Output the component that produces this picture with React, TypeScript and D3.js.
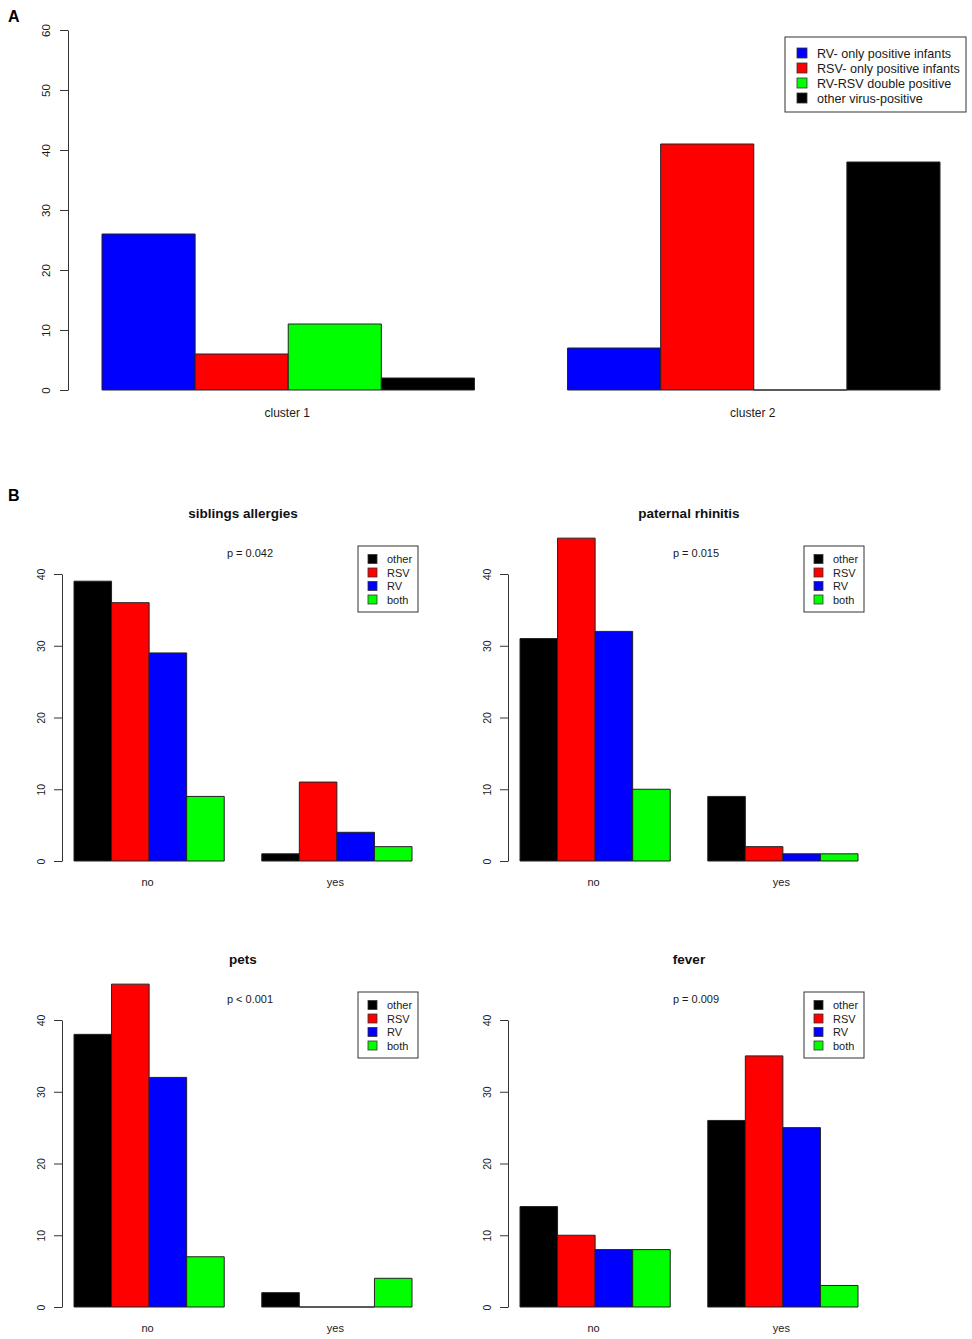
import * as React from 'react';
import { select, scaleLinear, scaleBand, axisLeft, ScaleLinear } from 'd3';

const { useRef, useEffect } = React;

// ---- panel A data ----
const clusters = ['cluster 1', 'cluster 2'];
const seriesA = ['RV- only positive infants', 'RSV- only positive infants', 'RV-RSV double positive', 'other virus-positive'];
const colorsA = ['#0000ff', '#ff0000', '#00ff00', '#000000'];
const rvOnly = [26, 7];
const rsvOnly = [6, 41];
const doublePos = [11, 0];
const otherVirus = [2, 38];
const ticksA = [0, 10, 20, 30, 40, 50, 60];

// ---- panel B data ----
const seriesB = ['other', 'RSV', 'RV', 'both'];
const colorsB = ['#000000', '#ff0000', '#0000ff', '#00ff00'];
const answers = ['no', 'yes'];
const ticksB = [0, 10, 20, 30, 40];
const titlesB = ['siblings allergies', 'paternal rhinitis', 'pets', 'fever'];
const pValues = ['p = 0.042', 'p = 0.015', 'p < 0.001', 'p = 0.009'];
// values per answer, ordered other, RSV, RV, both
const siblingsNo = [39, 36, 29, 9];
const siblingsYes = [1, 11, 4, 2];
const rhinitisNo = [31, 45, 32, 10];
const rhinitisYes = [9, 2, 1, 1];
const petsNo = [38, 45, 32, 7];
const petsYes = [2, 0, 0, 4];
const feverNo = [14, 10, 8, 8];
const feverYes = [26, 35, 25, 3];

const FONT = '"Liberation Sans", Arial, sans-serif';
const AXIS_COLOR = '#333';
const TEXT_COLOR = '#1a1a1a';

interface AxisProps {
    scale: ScaleLinear<number, number>;
    x: number;
    ticks: number[];
    fontSize: number;
    labelOffset: number;
}

const YAxis = (props: AxisProps): JSX.Element => {
    const ref = useRef(null);
    useEffect(() => {
        const g = select(ref.current);
        g.call(axisLeft(props.scale).tickValues(props.ticks).tickSize(8).tickSizeOuter(0));
        g.attr('font-family', FONT);
        g.select('.domain').attr('stroke', AXIS_COLOR);
        g.selectAll('.tick line').attr('stroke', AXIS_COLOR);
        // R style: labels parallel to the axis
        g.selectAll('.tick text')
            .attr('x', null)
            .attr('dy', null)
            .attr('transform', `translate(${-props.labelOffset},0) rotate(-90)`)
            .attr('text-anchor', 'middle')
            .attr('font-size', props.fontSize)
            .attr('fill', TEXT_COLOR);
    }, [props.scale, props.x]);
    return <g ref={ref} transform={`translate(${props.x},0)`} />;
};

// bars as paths so zero-height bars still show a line, like R
const barPath = (x: number, y0: number, y1: number, w: number) =>
    `M${x},${y0}V${y1}H${x + w}V${y0}Z`;

const PanelA = (): JSX.Element => {
    const values = [rvOnly, rsvOnly, doublePos, otherVirus];
    const y = scaleLinear().domain([0, 60]).range([390, 30]);
    const xGroup = scaleBand().domain(clusters).range([102, 940]).paddingInner(0.2).paddingOuter(0);
    const xInner = scaleBand().domain(seriesA).range([0, xGroup.bandwidth()]);

    return (
        <g>
            <YAxis scale={y} x={68} ticks={ticksA} fontSize={11.5} labelOffset={18} />
            {clusters.map((c, gi) => (
                <g key={c}>
                    {seriesA.map((s, si) => (
                        <path
                            key={s}
                            d={barPath(xGroup(c)! + xInner(s)!, y(0), y(values[si][gi]), xInner.bandwidth())}
                            fill={colorsA[si]}
                            stroke="#222"
                            strokeWidth={1}
                        />
                    ))}
                    <text x={xGroup(c)! + xGroup.bandwidth() / 2 - 1} y={y(0) + 27} textAnchor="middle"
                        fontSize={12} fontFamily={FONT} fill={TEXT_COLOR}>{c}</text>
                </g>
            ))}
            <rect x={785} y={37} width={181} height={75} fill="white" stroke="#333" strokeWidth={1} />
            {seriesA.map((s, i) => (
                <g key={s} transform={`translate(797,${53 + i * 15})`}>
                    <rect x={0} y={-5} width={10} height={10} fill={colorsA[i]} stroke="#333" strokeWidth={0.8} />
                    <text x={20} y={4.5} fontSize={12.6} fontFamily={FONT} fill={TEXT_COLOR}>{s}</text>
                </g>
            ))}
        </g>
    );
};

interface PanelBProps {
    ox: number;
    oy: number;
    title: string;
    pValue: string;
    groups: number[][];
}

const PanelB = (props: PanelBProps): JSX.Element => {
    const { ox, oy } = props;
    const y = scaleLinear().domain([0, 40]).range([oy, oy - 287]);
    const xGroup = scaleBand().domain(answers).range([ox + 12, ox + 350]).paddingInner(0.2).paddingOuter(0);
    const xInner = scaleBand().domain(seriesB).range([0, xGroup.bandwidth()]);

    return (
        <g>
            <text x={ox + 181} y={oy - 343} textAnchor="middle" fontSize={13.5} fontWeight="bold"
                fontFamily={FONT} fill="#111">{props.title}</text>
            <text x={ox + 188} y={oy - 304} textAnchor="middle" fontSize={11} fontFamily={FONT}
                fill={TEXT_COLOR}>{props.pValue}</text>
            <YAxis scale={y} x={ox} ticks={ticksB} fontSize={10.5} labelOffset={17} />
            {answers.map((a, gi) => (
                <g key={a}>
                    {seriesB.map((s, si) => (
                        <path
                            key={s}
                            d={barPath(xGroup(a)! + xInner(s)!, y(0), y(props.groups[gi][si]), xInner.bandwidth())}
                            fill={colorsB[si]}
                            stroke="#222"
                            strokeWidth={1}
                        />
                    ))}
                    <text x={xGroup(a)! + xGroup.bandwidth() / 2 - 1.5} y={y(0) + 25} textAnchor="middle"
                        fontSize={11} fontFamily={FONT} fill={TEXT_COLOR}>{a}</text>
                </g>
            ))}
            <rect x={ox + 296} y={oy - 315} width={60} height={66} fill="white" stroke="#333" strokeWidth={1} />
            {seriesB.map((s, i) => (
                <g key={s} transform={`translate(${ox + 306},${oy - 302 + i * 13.5})`}>
                    <rect x={0} y={-4.5} width={9} height={9} fill={colorsB[i]} stroke="#333" strokeWidth={0.8} />
                    <text x={19} y={4} fontSize={11} fontFamily={FONT} fill={TEXT_COLOR}>{s}</text>
                </g>
            ))}
        </g>
    );
};

export default function App(): JSX.Element {
    const panelsB = [
        { ox: 62, oy: 861, groups: [siblingsNo, siblingsYes] },
        { ox: 508, oy: 861, groups: [rhinitisNo, rhinitisYes] },
        { ox: 62, oy: 1307, groups: [petsNo, petsYes] },
        { ox: 508, oy: 1307, groups: [feverNo, feverYes] },
    ];
    return (
        <div style={{ position: 'absolute', left: 0, top: 0 }}>
            <svg width={972} height={1339} style={{ display: 'block', background: 'white' }}>
                <text x={8} y={22} fontSize={16} fontWeight="bold" fontFamily={FONT}>A</text>
                <PanelA />
                <text x={8} y={501} fontSize={16} fontWeight="bold" fontFamily={FONT}>B</text>
                {panelsB.map((p, i) => (
                    <PanelB key={titlesB[i]} ox={p.ox} oy={p.oy} title={titlesB[i]} pValue={pValues[i]} groups={p.groups} />
                ))}
            </svg>
        </div>
    );
}
